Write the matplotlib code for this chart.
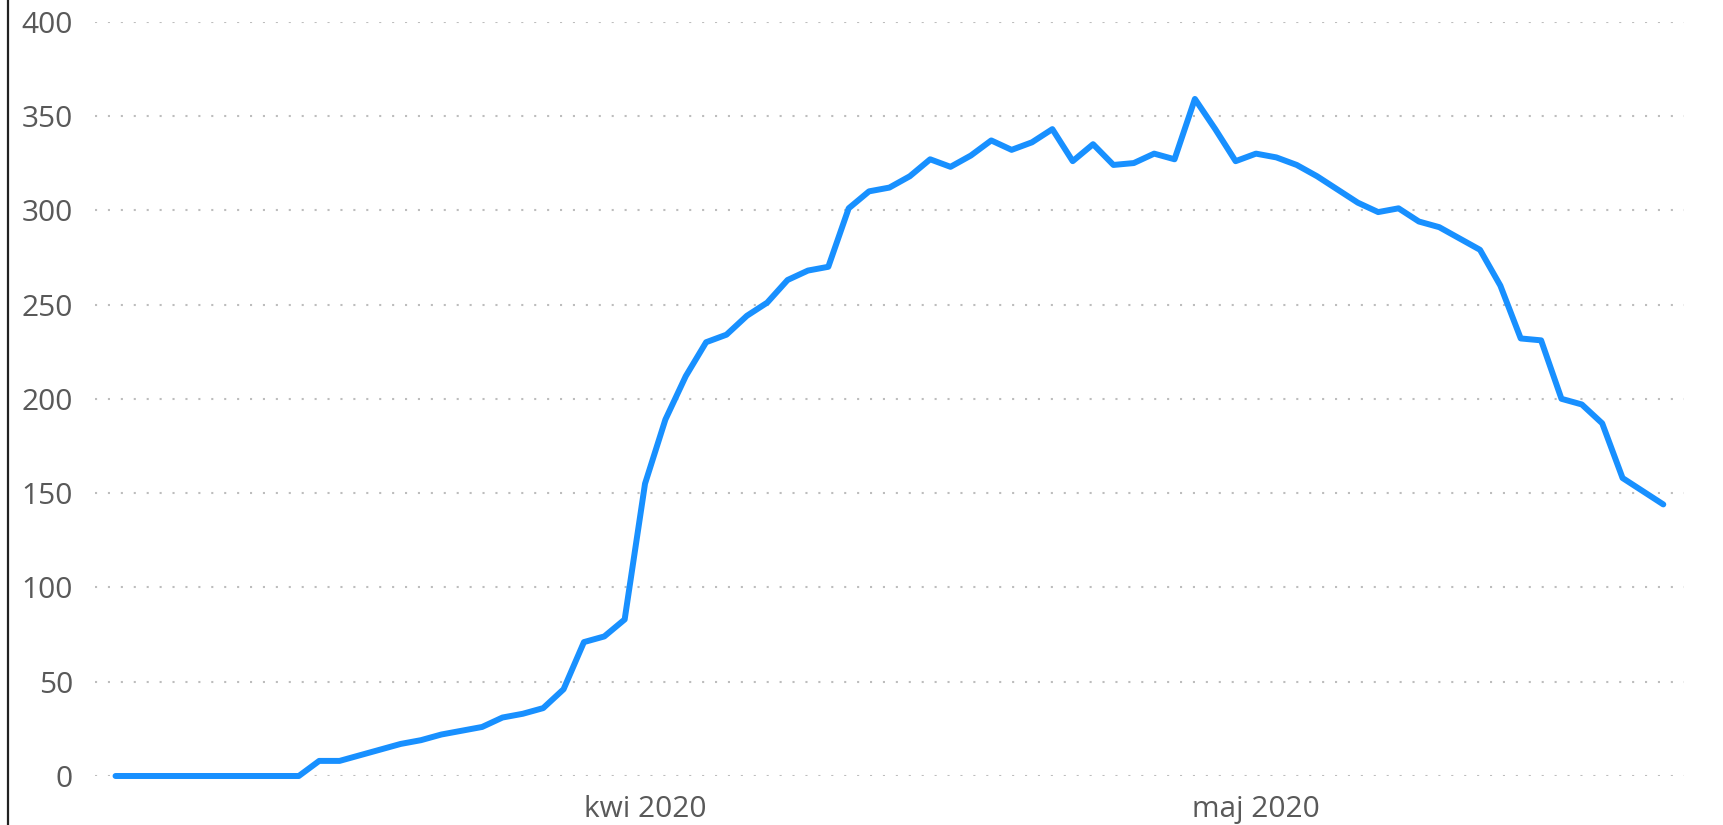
import matplotlib
matplotlib.use('Agg')
import matplotlib.pyplot as plt
import matplotlib.dates as mdates
from matplotlib.lines import Line2D
from matplotlib.ticker import FuncFormatter
import pandas as pd

# daily values, 6 Mar 2020 - 21 May 2020
dates = pd.date_range('2020-03-06', '2020-05-21', freq='D')
values = [0, 0, 0, 0, 0, 0, 0, 0, 0, 0,
          8, 8, 11, 14, 17, 19, 22, 24, 26, 31,
          33, 36, 46, 71, 74, 83, 155, 189, 212, 230,
          234, 244, 251, 263, 268, 270, 301, 310, 312, 318,
          327, 323, 329, 337, 332, 336, 343, 326, 335, 324,
          325, 330, 327, 359, 343, 326, 330, 328, 324, 318,
          311, 304, 299, 301, 294, 291, 285, 279, 260, 232,
          231, 200, 197, 187, 158, 151, 144]

y_ticks = [0, 50, 100, 150, 200, 250, 300, 350, 400]
pl_months = ['sty', 'lut', 'mar', 'kwi', 'maj', 'cze',
             'lip', 'sie', 'wrz', 'paź', 'lis', 'gru']

LINE_COLOR = '#1890ff'
TEXT_COLOR = '#595959'
GRID_COLOR = '#bdbdbd'

plt.rcParams['font.family'] = ['Open Sans', 'DejaVu Sans']

fig = plt.figure(figsize=(17.24, 8.25), dpi=100)
ax = fig.add_axes([0.0552, 0.0594, 0.9214, 0.9144])

ax.plot(dates, values, color=LINE_COLOR, lw=4.3, solid_capstyle='round',
        clip_on=False, zorder=3)

ax.set_xlim(pd.Timestamp('2020-03-05'), pd.Timestamp('2020-05-22'))
ax.set_ylim(0, 400)
ax.set_yticks(y_ticks)

ax.xaxis.set_major_locator(mdates.MonthLocator())
ax.xaxis.set_major_formatter(FuncFormatter(
    lambda x, pos: f"{pl_months[mdates.num2date(x).month - 1]} {mdates.num2date(x).year}"))

ax.grid(axis='y', color=GRID_COLOR, lw=1.5, linestyle=(0, (1, 5.2)))
ax.grid(axis='x', visible=False)
ax.set_axisbelow(True)

for s in ax.spines.values():
    s.set_visible(False)
ax.tick_params(axis='both', length=0, labelsize=21.5, labelcolor=TEXT_COLOR)
ax.tick_params(axis='y', pad=16)
ax.tick_params(axis='x', pad=14)

# dark border line on the left edge
fig.add_artist(Line2D([8 / 1724, 8 / 1724], [0, 1], transform=fig.transFigure,
                      color='#222222', lw=1.6))

fig.savefig('out.png', dpi=100, facecolor='white')
